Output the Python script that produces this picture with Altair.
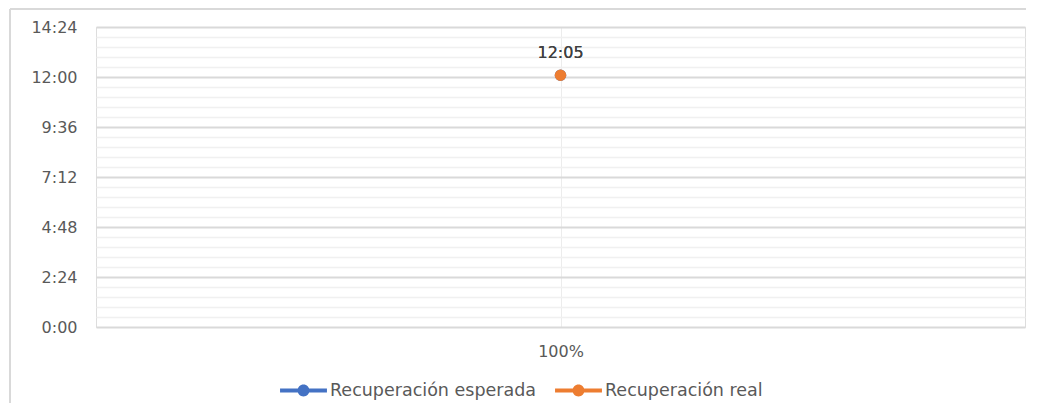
import json
import altair as alt
import pandas as pd

# ---- data ----
categories = ["100%"]
series_names = ["Recuperación esperada", "Recuperación real"]
esperada = ["12:05"]
real = ["12:05"]
series_colors = ["#4472C4", "#ED7D31"]
y_tick_labels = ["0:00", "2:24", "4:48", "7:12", "9:36", "12:00", "14:24"]


def to_seconds(s):
    h, m = s.split(":")
    return int(h) * 3600 + int(m) * 60


major_step = to_seconds(y_tick_labels[1])          # 2:24
y_max = to_seconds(y_tick_labels[-1])              # 14:24
minor_step = major_step // 5
tick_values = list(range(0, y_max + 1, minor_step))

rows = []
for name, vals in zip(series_names, [esperada, real]):
    for c, v in zip(categories, vals):
        rows.append({"cat": c, "serie": name, "secs": to_seconds(v), "label": v})
df = pd.DataFrame(rows)

label_expr = (
    f"datum.value % {major_step} === 0 ? "
    f"{json.dumps(y_tick_labels)}[round(datum.value / {major_step})] : ''"
)

# line segment with a dot in the middle (Excel-like legend key), filled shape
legend_symbol = (
    "M-1,-0.085H1V0.085H-1Z"
    "M0.255,0A0.255,0.255,0,1,1,-0.255,0A0.255,0.255,0,1,1,0.255,0Z"
)

base = alt.Chart(df).encode(
    x=alt.X(
        "cat:N",
        title=None,
        sort=categories,
        axis=alt.Axis(
            labelAngle=0,
            ticks=False,
            domain=False,
            grid=True,
            gridColor="#ececec",
            gridWidth=1,
            labelFont="DejaVu Sans",
            labelFontSize=16,
            labelColor="#595959",
            labelPadding=16,
        ),
    ),
    y=alt.Y(
        "secs:Q",
        title=None,
        scale=alt.Scale(domain=[0, y_max], nice=False, zero=True),
        axis=alt.Axis(
            values=tick_values,
            labelExpr=label_expr,
            ticks=False,
            domain=False,
            grid=True,
            gridColor={
                "condition": {"test": f"datum.value % {major_step} === 0", "value": "#d9d9d9"},
                "value": "#f0f0f0",
            },
            gridWidth={
                "condition": {"test": f"datum.value % {major_step} === 0", "value": 2},
                "value": 1.3,
            },
            labelFont="DejaVu Sans",
            labelFontSize=16,
            labelColor="#595959",
            labelPadding=19,
            labelOverlap=False,
        ),
    ),
)

points = base.mark_point(filled=True, size=135, opacity=1).encode(
    color=alt.Color(
        "serie:N",
        scale=alt.Scale(domain=series_names, range=series_colors),
        legend=alt.Legend(
            title=None,
            orient="none",
            direction="horizontal",
            legendX=184,
            legendY=340,
            symbolType=legend_symbol,
            symbolSize=2200,
            symbolStrokeWidth=0,
            symbolOpacity=1,
            labelFont="DejaVu Sans",
            labelFontSize=17.5,
            labelColor="#595959",
            labelLimit=400,
            labelOffset=3,
            columnPadding=18,
            padding=0,
        ),
    )
)

labels = base.mark_text(
    dy=-22, font="DejaVu Sans", fontSize=16, color="#404040"
).encode(text="label:N")

frame_df = pd.DataFrame({"f": [0]})
frame_top = alt.Chart(frame_df).mark_rule(color="#d9d9d9", strokeWidth=2).encode(
    x=alt.value(-86), x2=alt.value(936), y=alt.value(-18)
)
frame_left = alt.Chart(frame_df).mark_rule(color="#d9d9d9", strokeWidth=2).encode(
    x=alt.value(-86), y=alt.value(-18), y2=alt.value(400)
)

chart = (
    alt.layer(frame_top, frame_left, points, labels)
    .properties(
        width=929,
        height=300,
        autosize=alt.AutoSizeParams(type="none"),
        padding={"left": 88, "top": 19, "right": 1, "bottom": 76},
    )
    .configure_view(stroke="#d9d9d9", strokeWidth=1.5)
    .configure(background="white")
)

chart.save("out.html", embed_options={"renderer": "svg", "actions": False})
